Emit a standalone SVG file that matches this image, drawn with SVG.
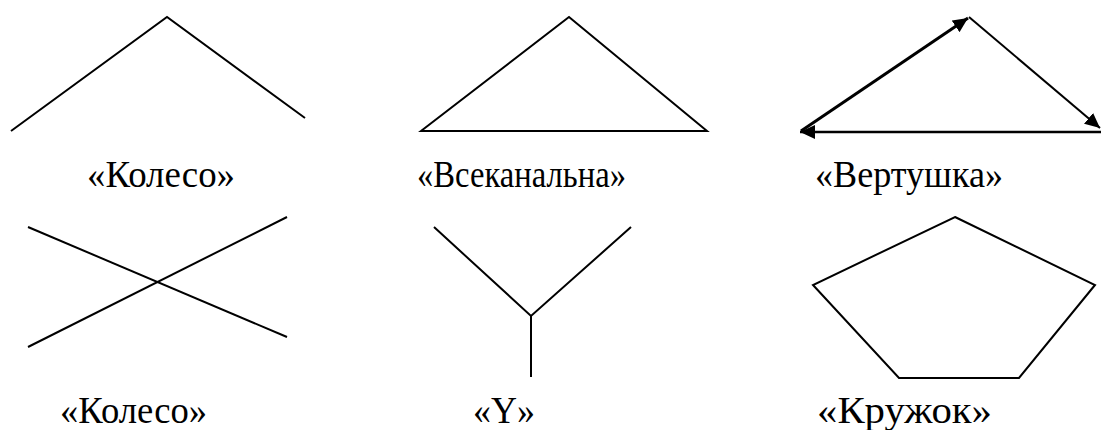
<svg xmlns="http://www.w3.org/2000/svg" width="1101" height="430" viewBox="0 0 1101 430">
<defs>
<marker id="ah" markerUnits="userSpaceOnUse" markerWidth="16" markerHeight="14" refX="15" refY="7" orient="auto">
<path d="M0,0 L15,7 L0,14 Z" fill="#000"/>
</marker>
</defs>
<rect width="1101" height="430" fill="#fff"/>
<g stroke="#000" stroke-width="2" fill="none">
<g id="koleso1">
<polyline points="11,131 167,17 305,118"/>
</g>
<g id="vsekanalna">
<polygon points="421,131 569,17 707,131"/>
</g>
<g id="vertushka">
<g id="connectors">
<line stroke-width="3" x1="801" y1="131" x2="968" y2="18" marker-end="url(#ah)"/>
<line x1="969" y1="17" x2="1100" y2="128" marker-end="url(#ah)"/>
<line stroke-width="2.5" x1="1101" y1="132" x2="800" y2="132" marker-end="url(#ah)"/>
</g>
</g>
<g id="koleso2">
<line x1="28" y1="227" x2="287" y2="337"/>
<line x1="28" y1="347" x2="287" y2="217"/>
</g>
<g id="y">
<polyline points="434,227 531,316 631,227"/>
<line x1="531" y1="316" x2="531" y2="377"/>
</g>
<g id="kruzhok">
<polygon points="955,217 1095,285 1019,378 899,378 813,285"/>
</g>
</g>
<g id="labels">
<text font-family="Liberation Serif" font-size="37" x="87" y="187" textLength="148" lengthAdjust="spacingAndGlyphs">«Колесо»</text>
<text font-family="Liberation Serif" font-size="37" x="417" y="187" textLength="209" lengthAdjust="spacingAndGlyphs">«Всеканальна»</text>
<text font-family="Liberation Serif" font-size="37" x="815" y="187" textLength="188" lengthAdjust="spacingAndGlyphs">«Вертушка»</text>
<text font-family="Liberation Serif" font-size="37" x="60" y="423" textLength="147" lengthAdjust="spacingAndGlyphs">«Колесо»</text>
<text font-family="Liberation Serif" font-size="37" x="473" y="423" textLength="62" lengthAdjust="spacingAndGlyphs">«Y»</text>
<text font-family="Liberation Serif" font-size="37" x="817" y="423" textLength="175" lengthAdjust="spacingAndGlyphs">«Кружок»</text>
</g>
</svg>
